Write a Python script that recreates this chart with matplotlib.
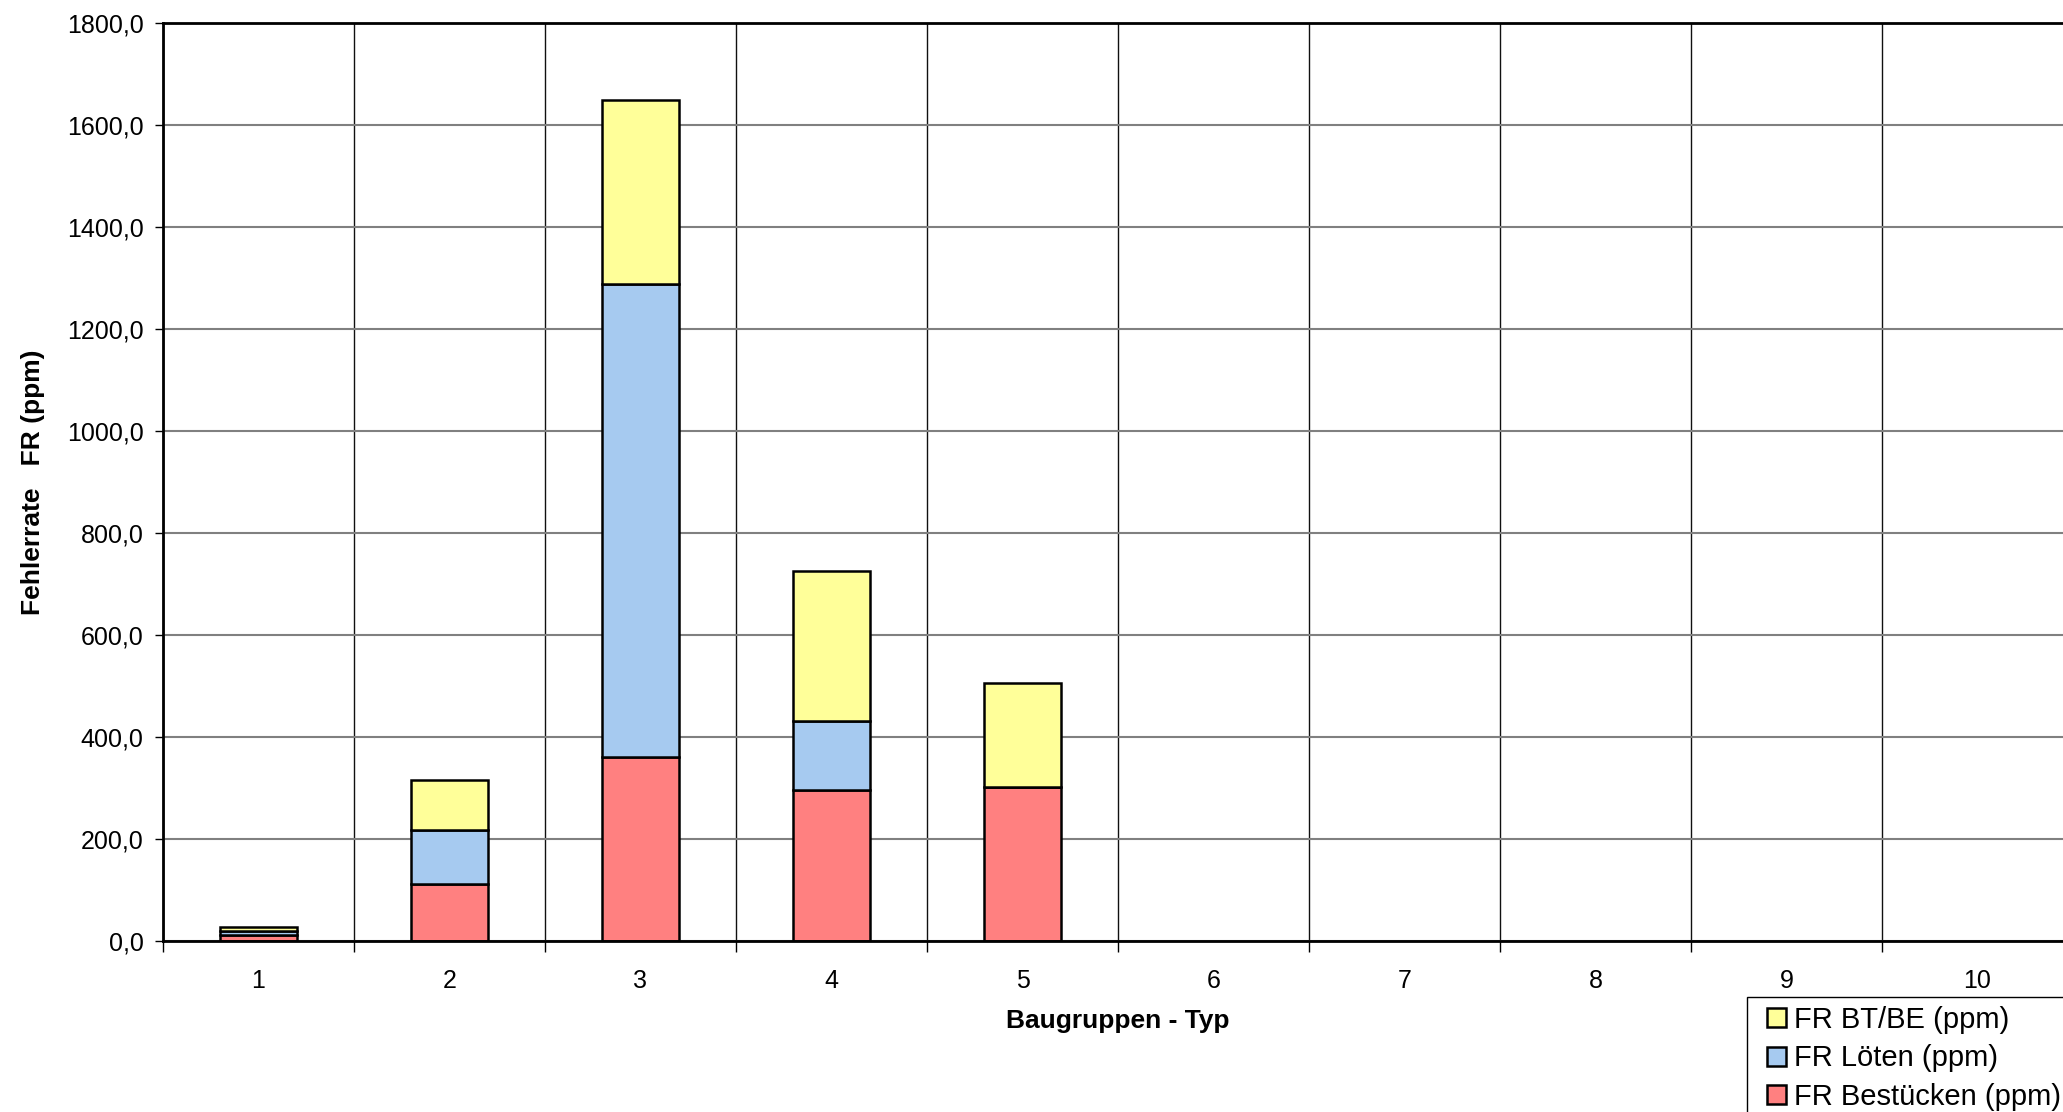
import matplotlib
matplotlib.use("Agg")
import matplotlib.pyplot as plt
import matplotlib.ticker as mticker
import matplotlib.patches as mpatches
import numpy as np

plt.rcParams['font.family'] = ['Liberation Sans', 'DejaVu Sans']

types = ['1', '2', '3', '4', '5', '6', '7', '8', '9', '10']
fr_bestuecken = [12, 111, 361, 297, 302, 0, 0, 0, 0, 0]
fr_loeten = [7, 106, 928, 134, 0, 0, 0, 0, 0, 0]
fr_btbe = [9, 98, 361, 294, 204, 0, 0, 0, 0, 0]

c_red = '#FF8080'
c_blue = '#A6CAF0'
c_yellow = '#FFFF99'

W, H = 2063, 1112
fig = plt.figure(figsize=(W/100, H/100), dpi=100)
ax = fig.add_axes([163/W, 171/H, 1910/W, 918/H])

x = np.arange(1, len(types) + 1)
w = 0.4
mask = np.array(fr_bestuecken) + np.array(fr_loeten) + np.array(fr_btbe) > 0
xs = x[mask]
r = np.array(fr_bestuecken)[mask]
b = np.array(fr_loeten)[mask]
y = np.array(fr_btbe)[mask]
h_red = ax.bar(xs, r, w, color=c_red, edgecolor='black', lw=1.8, zorder=3,
               label='FR Bestücken (ppm)')
h_blue = ax.bar(xs, b, w, bottom=r, color=c_blue, edgecolor='black', lw=1.8,
                zorder=3, label='FR Löten (ppm)')
h_yel = ax.bar(xs, y, w, bottom=r + b, color=c_yellow, edgecolor='black',
               lw=1.8, zorder=3, label='FR BT/BE (ppm)')

ax.set_xlim(0.5, 10.5)
ax.set_ylim(0, 1800)
ax.set_yticks(np.arange(0, 1801, 200))
ax.yaxis.set_major_formatter(mticker.FuncFormatter(lambda v, p: f'{v:.1f}'.replace('.', ',')))

ax.set_xticks(np.arange(0.5, 11, 1))
ax.set_xticklabels([])
ax.set_xticks(x, minor=True)
ax.set_xticklabels(types, minor=True)
ax.tick_params(axis='x', which='major', length=8, width=1, direction='out', color='black')
ax.tick_params(axis='x', which='minor', length=0, pad=20, labelsize=18)
ax.tick_params(axis='y', length=6, width=1, direction='out', pad=8, labelsize=18)

ax.grid(axis='y', color='#808080', lw=1.5, zorder=1)
ax.grid(axis='x', which='major', color='#101010', lw=1, zorder=1)
for s in ['left', 'bottom', 'top']:
    ax.spines[s].set_linewidth(2)
    ax.spines[s].set_zorder(4)
ax.spines['right'].set_visible(False)

ax.set_xlabel('Baugruppen - Typ', fontsize=19, fontweight='bold', labelpad=12)
ax.set_ylabel('Fehlerrate   FR (ppm)', fontsize=19, fontweight='bold', labelpad=16)

# legend box runs off the right and bottom edge like in the original
box = mpatches.Rectangle((1747/W, -0.1), 0.3, 0.1 + (H - 997)/H,
                         transform=fig.transFigure, facecolor='white',
                         edgecolor='black', lw=1, zorder=5)
fig.patches.append(box)
leg = fig.legend(handles=[h_yel, h_blue, h_red],
                 loc='upper left', bbox_to_anchor=(1767/W, 1 - 1006/H),
                 fontsize=21, frameon=False, borderpad=0,
                 handlelength=0.65, handleheight=0.65, handletextpad=0.28,
                 labelspacing=0.36, borderaxespad=0)
leg.set_zorder(6)

fig.savefig('out.png', dpi=100)
